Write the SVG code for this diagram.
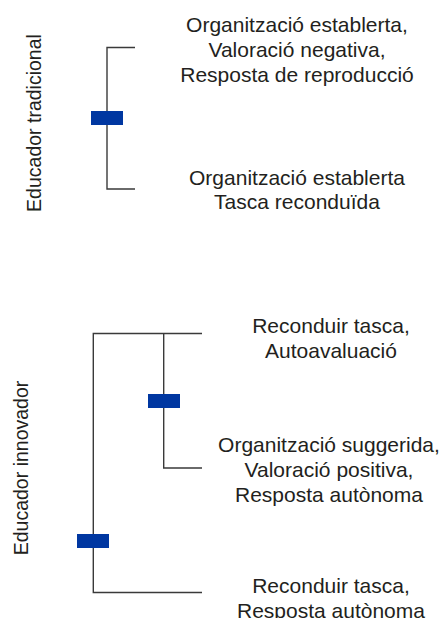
<svg xmlns="http://www.w3.org/2000/svg" width="443" height="618" viewBox="0 0 443 618">
  <style>
    .lbl { font-family: "Liberation Sans", Arial, sans-serif; font-size: 21px; fill: #231f20; text-anchor: middle; }
    .side { font-family: "Liberation Sans", Arial, sans-serif; font-size: 19.5px; fill: #231f20; text-anchor: middle; }
    .ln { fill: none; stroke: #3a3a3a; stroke-width: 1.4; }
    .bar { fill: #0037a1; }
  </style>
  <rect width="443" height="618" fill="#ffffff"/>
  <g id="connectors">
    <path class="ln" d="M135,47.5 H107 V189 H135"/>
    <path class="ln" d="M202,333.5 H93.3 V592.5 H202"/>
    <path class="ln" d="M163.7,333.5 V468 H202"/>
  </g>
  <g id="bar-tradicional"><rect class="bar" x="91" y="111" width="32" height="14"/></g>
  <g id="bar-innovador-inner"><rect class="bar" x="148" y="394" width="32" height="14"/></g>
  <g id="bar-innovador-outer"><rect class="bar" x="77" y="534" width="32" height="14"/></g>
  <g id="label-tradicional">
    <text class="side" transform="translate(41,123) rotate(-90)">Educador tradicional</text>
  </g>
  <g id="label-innovador">
    <text class="side" transform="translate(28,468) rotate(-90)">Educador innovador</text>
  </g>
  <g id="node-t1">
    <text class="lbl" x="297" y="32">Organització establerta,</text>
    <text class="lbl" x="297" y="57">Valoració negativa,</text>
    <text class="lbl" x="297" y="82">Resposta de reproducció</text>
  </g>
  <g id="node-t2">
    <text class="lbl" x="297" y="185">Organització establerta</text>
    <text class="lbl" x="297" y="209">Tasca reconduïda</text>
  </g>
  <g id="node-i1">
    <text class="lbl" x="331" y="333">Reconduir tasca,</text>
    <text class="lbl" x="331" y="358">Autoavaluació</text>
  </g>
  <g id="node-i2">
    <text class="lbl" x="329" y="452">Organització suggerida,</text>
    <text class="lbl" x="329" y="477">Valoració positiva,</text>
    <text class="lbl" x="329" y="502">Resposta autònoma</text>
  </g>
  <g id="node-i3">
    <text class="lbl" x="331" y="593">Reconduir tasca,</text>
    <text class="lbl" x="331" y="618">Resposta autònoma</text>
  </g>
</svg>
